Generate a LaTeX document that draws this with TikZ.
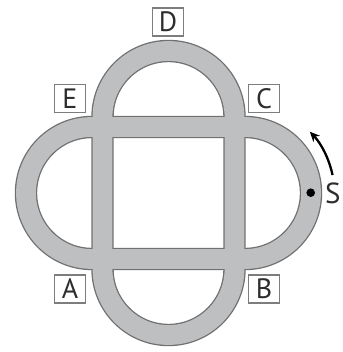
\documentclass[tikz,border=0pt]{standalone}
\usepackage{fontspec}
\setmainfont{PT Sans}
\usetikzlibrary{arrows.meta}
\definecolor{trackfill}{RGB}{190,191,193}
\definecolor{trackedge}{RGB}{112,112,112}
\definecolor{boxedge}{RGB}{125,125,125}
\definecolor{txt}{RGB}{45,45,45}
\tikzset{
  edgeline/.style={draw=trackedge, line width=22.4pt},
  fillline/.style={draw=trackfill, line width=19.8pt},
  lab/.style={draw=boxedge, line width=1.4pt, minimum width=31pt, minimum height=28pt, inner sep=0pt, text=txt, font=\fontsize{28}{28}\selectfont},
}
\begin{document}
\begin{tikzpicture}[x=1pt,y=-1pt]
\useasboundingbox (0,0) rectangle (342,352);
\def\vloop{(102.5,117) -- (102.5,269) arc[start angle=180, end angle=0, radius=66] -- (234.5,117) arc[start angle=0, end angle=-180, radius=66] -- cycle}
\def\hloop{(245,127) arc[start angle=-90, end angle=90, radius=66] -- (92,259) arc[start angle=90, end angle=270, radius=66] -- cycle}
\draw[edgeline] \vloop;
\draw[edgeline] \hloop;
\draw[fillline] \vloop;
\draw[fillline] \hloop;
\node[lab] (D) at (168,22) {D};
\node[lab] (E) at (70,98.5) {E};
\node[lab] (C) at (264,98.5) {C};
\node[lab] (A) at (70,289) {A};
\node[lab] (B) at (264,289) {B};
\fill[black] (310.7,192.7) circle[radius=4.3];
\node[text=txt, font=\fontsize{29}{29}\selectfont, anchor=west, inner sep=0pt] (S) at (325,193) {S};
\coordinate (as) at (332.5,175);
\draw[line width=2.3pt, -{Stealth[length=10pt,width=9pt]}] (as) arc[start angle=-11.7, end angle=-43.6, radius=89];
\end{tikzpicture}
\end{document}
